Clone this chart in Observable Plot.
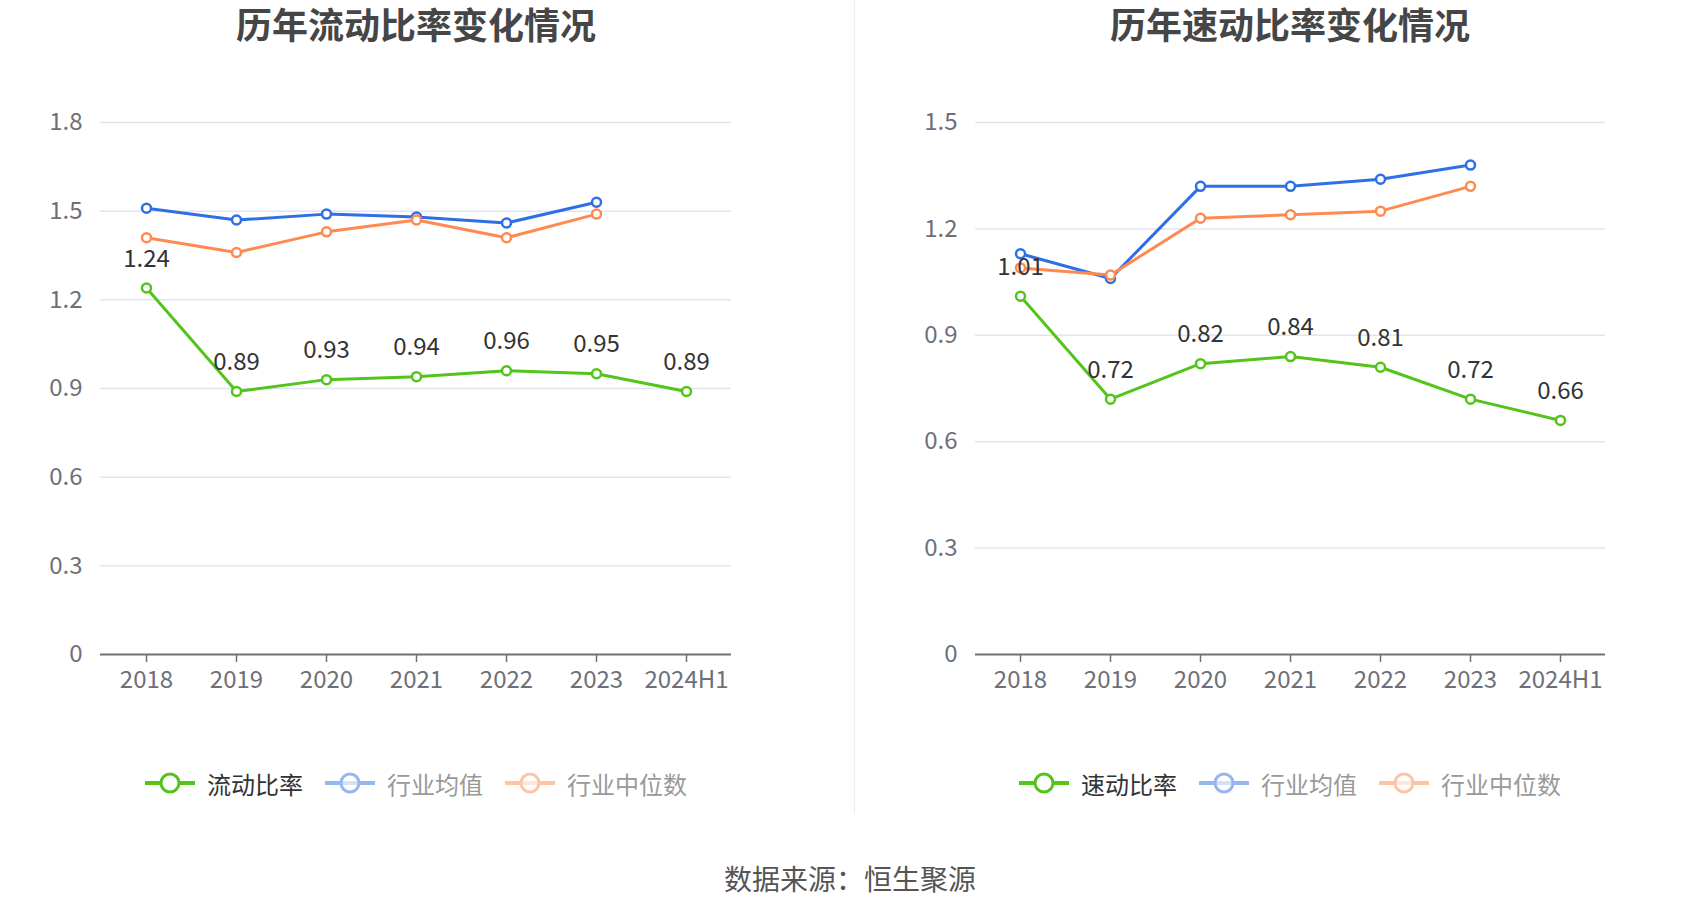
<!DOCTYPE html>
<html>
<head>
<meta charset="utf-8">
<script src="https://cdn.jsdelivr.net/npm/d3@7"></script>
<script src="https://cdn.jsdelivr.net/npm/@observablehq/plot@0.6"></script>
<style>
  html, body { margin: 0; padding: 0; background: #fff; }
  body { width: 1700px; height: 918px; position: relative; overflow: hidden;
         font-family: "Noto Sans CJK SC", "Noto Sans", sans-serif; }
  .title { position: absolute; top: 0; height: 46px; line-height: 46px; font-size: 36px;
           font-weight: bold; color: #464646; text-align: center; white-space: nowrap; }
  .panel { position: absolute; top: 0; }
  .legend { position: absolute; top: 766px; height: 34px; display: flex; align-items: center;
            justify-content: center; gap: 22px; font-size: 24px; white-space: nowrap; }
  .legend .item { display: flex; align-items: center; }
  .legend .item svg { margin-right: 12px; }
  .caption { position: absolute; top: 858px; left: 0; width: 1700px; text-align: center;
             font-size: 28px; color: #555; }
  .divider { position: absolute; left: 854px; top: 0; width: 1px; height: 814px; background: #eeeeee; }
</style>
</head>
<body>
<script>
const years = ["2018", "2019", "2020", "2021", "2022", "2023", "2024H1"];
const avgYears = ["2018", "2019", "2020", "2021", "2022", "2023"];

const currentRatio = [1.24, 0.89, 0.93, 0.94, 0.96, 0.95, 0.89];
const currentAvg = [1.51, 1.47, 1.49, 1.48, 1.46, 1.53];
const currentMedian = [1.41, 1.36, 1.43, 1.47, 1.41, 1.49];

const quickRatio = [1.01, 0.72, 0.82, 0.84, 0.81, 0.72, 0.66];
const quickAvg = [1.13, 1.06, 1.32, 1.32, 1.34, 1.38];
const quickMedian = [1.09, 1.07, 1.23, 1.24, 1.25, 1.32];

const leftTicks = [0, 0.3, 0.6, 0.9, 1.2, 1.5, 1.8];
const rightTicks = [0, 0.3, 0.6, 0.9, 1.2, 1.5];

const titles = ["历年流动比率变化情况", "历年速动比率变化情况"];
const seriesNamesLeft = ["流动比率", "行业均值", "行业中位数"];
const seriesNamesRight = ["速动比率", "行业均值", "行业中位数"];
const caption = "数据来源：恒生聚源";

const GREEN = "#52C41A";
const BLUE = "#2F6FE6";
const ORANGE = "#FF8A50";
const FONT = '"Noto Sans CJK SC", "Noto Sans", sans-serif';

function toRows(xs, vs) { return vs.map((v, i) => ({x: xs[i], v})); }

function makeChart({main, avg, median, ticks, yMax, width, marginLeft, marginRight}) {
  const mainRows = toRows(years, main);
  const avgRows = toRows(avgYears, avg);
  const medRows = toRows(avgYears, median);
  return Plot.plot({
    width, height: 720,
    marginLeft, marginRight, marginTop: 122, marginBottom: 66,
    style: {fontFamily: FONT, fontSize: "24px", background: "transparent", overflow: "visible"},
    x: {type: "point", domain: years, padding: 0.5},
    y: {domain: [0, yMax]},
    marks: [
      Plot.gridY(ticks.filter(t => t > 0), {stroke: "#E0E6F1", strokeOpacity: 1, strokeWidth: 1.5}),
      Plot.axisY({ticks, tickSize: 0, tickPadding: 18, fontSize: 24, color: "#6E7079",
                  tickFormat: d => d === 0 ? "0" : d.toFixed(1), label: null}),
      Plot.ruleY([0], {stroke: "#6E7079", strokeWidth: 2}),
      Plot.axisX({tickSize: 8, tickPadding: 8, fontSize: 24, color: "#6E7079", stroke: "#6E7079",
                  strokeWidth: 1.5, label: null}),
      Plot.line(mainRows, {x: "x", y: "v", stroke: GREEN, strokeWidth: 3}),
      Plot.line(avgRows, {x: "x", y: "v", stroke: BLUE, strokeWidth: 3}),
      Plot.line(medRows, {x: "x", y: "v", stroke: ORANGE, strokeWidth: 3}),
      Plot.dot(mainRows, {x: "x", y: "v", r: 4.5, fill: "#fff", stroke: GREEN, strokeWidth: 2.5}),
      Plot.dot(avgRows, {x: "x", y: "v", r: 4.5, fill: "#fff", stroke: BLUE, strokeWidth: 2.5}),
      Plot.dot(medRows, {x: "x", y: "v", r: 4.5, fill: "#fff", stroke: ORANGE, strokeWidth: 2.5}),
      Plot.text(mainRows, {x: "x", y: "v", text: d => d.v.toFixed(2), dy: -29, fontSize: 24,
                           fill: "#333", lineAnchor: "middle"})
    ]
  });
}

function addPanel(left, title, center, names, chartOpts) {
  const panel = document.createElement("div");
  panel.className = "panel";
  panel.style.left = left + "px";
  panel.appendChild(makeChart(chartOpts));
  document.body.appendChild(panel);

  const t = document.createElement("div");
  t.className = "title";
  t.textContent = title;
  t.style.left = (center - 300) + "px";
  t.style.width = "600px";
  document.body.appendChild(t);

  const lg = document.createElement("div");
  lg.className = "legend";
  lg.style.left = (center - 400) + "px";
  lg.style.width = "800px";
  const colors = [GREEN, BLUE, ORANGE];
  names.forEach((n, i) => {
    const item = document.createElement("div");
    item.className = "item";
    const op = i === 0 ? 1 : 0.5;
    item.innerHTML =
      `<svg width="50" height="26" viewBox="0 0 50 26" style="opacity:${op}">
         <line x1="0" y1="13" x2="50" y2="13" stroke="${colors[i]}" stroke-width="4"/>
         <circle cx="25" cy="13" r="9" fill="${i === 0 ? '#fff' : 'rgba(255,255,255,0.6)'}" stroke="${colors[i]}" stroke-width="3"/>
       </svg><span style="color:${i === 0 ? '#333' : '#999'}">${n}</span>`;
    lg.appendChild(item);
  });
  document.body.appendChild(lg);
}

addPanel(0, titles[0], 416, seriesNamesLeft,
  {main: currentRatio, avg: currentAvg, median: currentMedian, ticks: leftTicks, yMax: 1.8,
   width: 850, marginLeft: 100, marginRight: 119});
addPanel(865, titles[1], 1290, seriesNamesRight,
  {main: quickRatio, avg: quickAvg, median: quickMedian, ticks: rightTicks, yMax: 1.5,
   width: 835, marginLeft: 110, marginRight: 95});

const div = document.createElement("div");
div.className = "divider";
document.body.appendChild(div);

const cap = document.createElement("div");
cap.className = "caption";
cap.textContent = caption;
document.body.appendChild(cap);
</script>
</body>
</html>
